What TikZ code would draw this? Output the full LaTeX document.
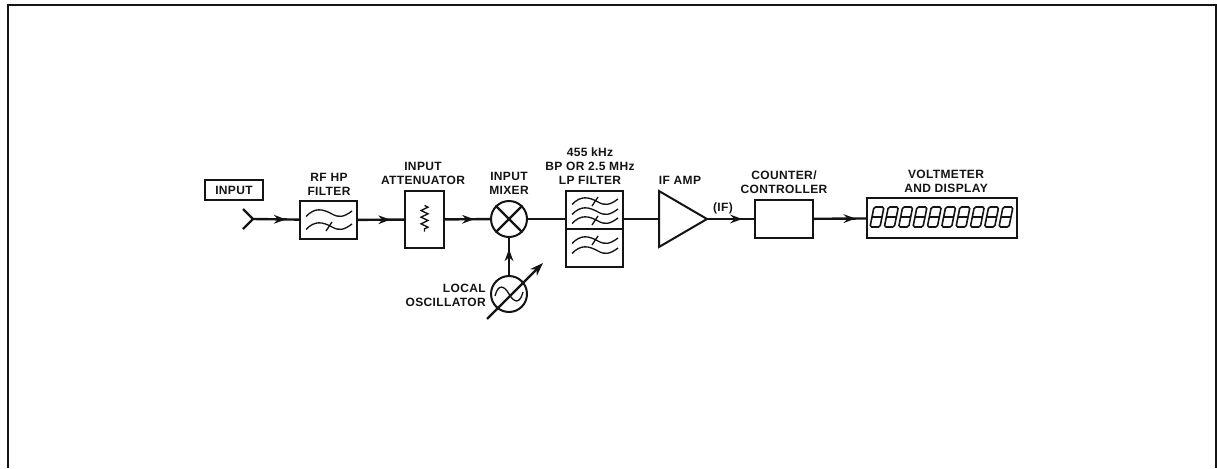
\documentclass[tikz,border=0pt]{standalone}
\usepackage{fontspec}
\setmainfont{Liberation Sans}
\usetikzlibrary{arrows.meta,calc,decorations.markings,decorations.pathmorphing}
\definecolor{InkBlack}{RGB}{20,20,20}
\tikzset{
  block/.style={draw=InkBlack,fill=white,line width=1.5pt,inner sep=0pt},
  caption/.style={font=\fontsize{9}{10.4}\selectfont\bfseries\addfontfeature{LetterSpace=3},text=InkBlack,align=center,inner sep=0pt},
  wire/.style={draw=InkBlack,line width=1.8pt},
  flow/.style={wire,postaction={decorate},decoration={markings,
               mark=at position #1 with {\arrow{Stealth[length=9pt,width=6.5pt]}}}},
  thin line/.style={draw=InkBlack,line width=1pt},
  wave/.pic={\draw[thin line] (-23,3.5) .. controls (-14,-6) and (-6,-4) .. (3,1)
                              .. controls (10,5) and (15,4) .. (23,-2);},
  waveslash/.pic={\draw[thin line] (-23,3.5) .. controls (-14,-6) and (-6,-4) .. (3,1)
                              .. controls (10,5) and (15,4) .. (23,-2);
                  \draw[thin line] (-3,5) -- (3,-4);},
  segdigit/.pic={\draw[InkBlack,line width=1.2pt,rounded corners=1.2pt,xslant=0.2]
                   (-5,-10) rectangle (5,10) (-5,0) -- (5,0);},
}
\begin{document}
\begin{tikzpicture}[x=0.75pt,y=-0.75pt]
  \useasboundingbox (0,0) rectangle (1217,468);
  \draw[InkBlack,line width=1.6pt] (8,468) -- (8,5) -- (1216,5) -- (1216,468);

  \node[block,minimum width=43pt,minimum height=14.5pt,caption,draw=InkBlack] (inputtag) at (234,190) {INPUT};
  \coordinate (jack) at (253,219);
  \coordinate (jacktop) at (243,209);
  \coordinate (jackbot) at (243,229);

  \node[block,minimum width=43pt,minimum height=28.5pt] (hpf) at (328.5,220) {};
  \node[block,minimum width=29pt,minimum height=43pt] (atten) at (424.5,219.5) {};
  \node[block,circle,minimum size=27pt] (mixer) at (509,219) {};
  \node[block,minimum width=43pt,minimum height=28.5pt] (bpf) at (594.5,210) {};
  \node[block,minimum width=43pt,minimum height=28.5pt] (lpf) at (594.5,248) {};
  \coordinate (amptop) at (659,191);
  \coordinate (ampbot) at (659,247);
  \coordinate (ampin) at (659,219);
  \coordinate (amptip) at (707,219);
  \node[block,minimum width=43.5pt,minimum height=28.5pt] (counter) at (784,219) {};
  \node[block,minimum width=112.5pt,minimum height=30pt] (display) at (942,218) {};
  \node[block,circle,minimum size=27pt] (lo) at (509,294) {};
  \coordinate (tunefrom) at (487,319);
  \coordinate (tuneto) at (543,263);

  \node[caption] (hplabel) at (329,184.5) {RF HP\\FILTER};
  \node[caption] (attlabel) at (423,173.5) {INPUT\\ATTENUATOR};
  \node[caption] (mixlabel) at (509,183.5) {INPUT\\MIXER};
  \node[caption] (bpflabel) at (590,166.5) {455 kHz\\BP OR 2.5 MHz\\LP FILTER};
  \node[caption] (amplabel) at (680,180) {IF AMP};
  \node[caption] (iflabel) at (723,208) {(IF)};
  \node[caption] (ctrlabel) at (784,182) {COUNTER/\\CONTROLLER};
  \node[caption] (dsplabel) at (946,181.5) {VOLTMETER\\AND DISPLAY};
  \node[caption,anchor=east,align=right] (lolabel) at (486,295) {LOCAL\\OSCILLATOR};

  \draw[wire] (jacktop) -- (jack) -- (jackbot);
  \draw[flow=0.72] (jack) -- (hpf);
  \draw[flow=0.7] (hpf) -- (atten);
  \draw[flow=0.65] (atten) -- (mixer);
  \draw[wire] (mixer) -- (bpf.west |- mixer);
  \draw[wire] (bpf.east |- ampin) -- (ampin);
  \draw[flow=0.75] (amptip) -- (counter);
  \draw[flow=0.8] (counter) -- (display);
  \draw[flow=0.7] (lo) -- (mixer);

  \draw[block,line join=miter] (amptop) -- (ampbot) -- (amptip) -- cycle;
  \draw[wire] (mixer.45) -- (mixer.225) (mixer.135) -- (mixer.315);
  \draw[wire,-{Stealth[length=10pt,width=7pt]}] (tunefrom) -- (tuneto);
  \draw[thin line] ($(lo)+(-14,2)$) .. controls ($(lo)+(-11,-10)$) and ($(lo)+(-5,-9)$) .. ($(lo)+(0,0)$)
                   .. controls ($(lo)+(5,9)$) and ($(lo)+(11,10)$) .. ($(lo)+(14,-2)$);
  \draw[thin line,decorate,decoration={zigzag,segment length=5pt,amplitude=2.6pt}]
    ($(atten)+(0,-14)$) -- ($(atten)+(0,12)$);

  \pic at (329,213) {wave};
  \pic at (329,226) {waveslash};
  \pic at (595,201) {waveslash};
  \pic at (595,211) {wave};
  \pic at (595,220) {waveslash};
  \pic at (595,240) {waveslash};
  \pic at (595,250) {wave};

  \foreach \d in {0,...,9}
    \pic at ($(877,217)+(14.33*\d,0)$) {segdigit};
\end{tikzpicture}
\end{document}
